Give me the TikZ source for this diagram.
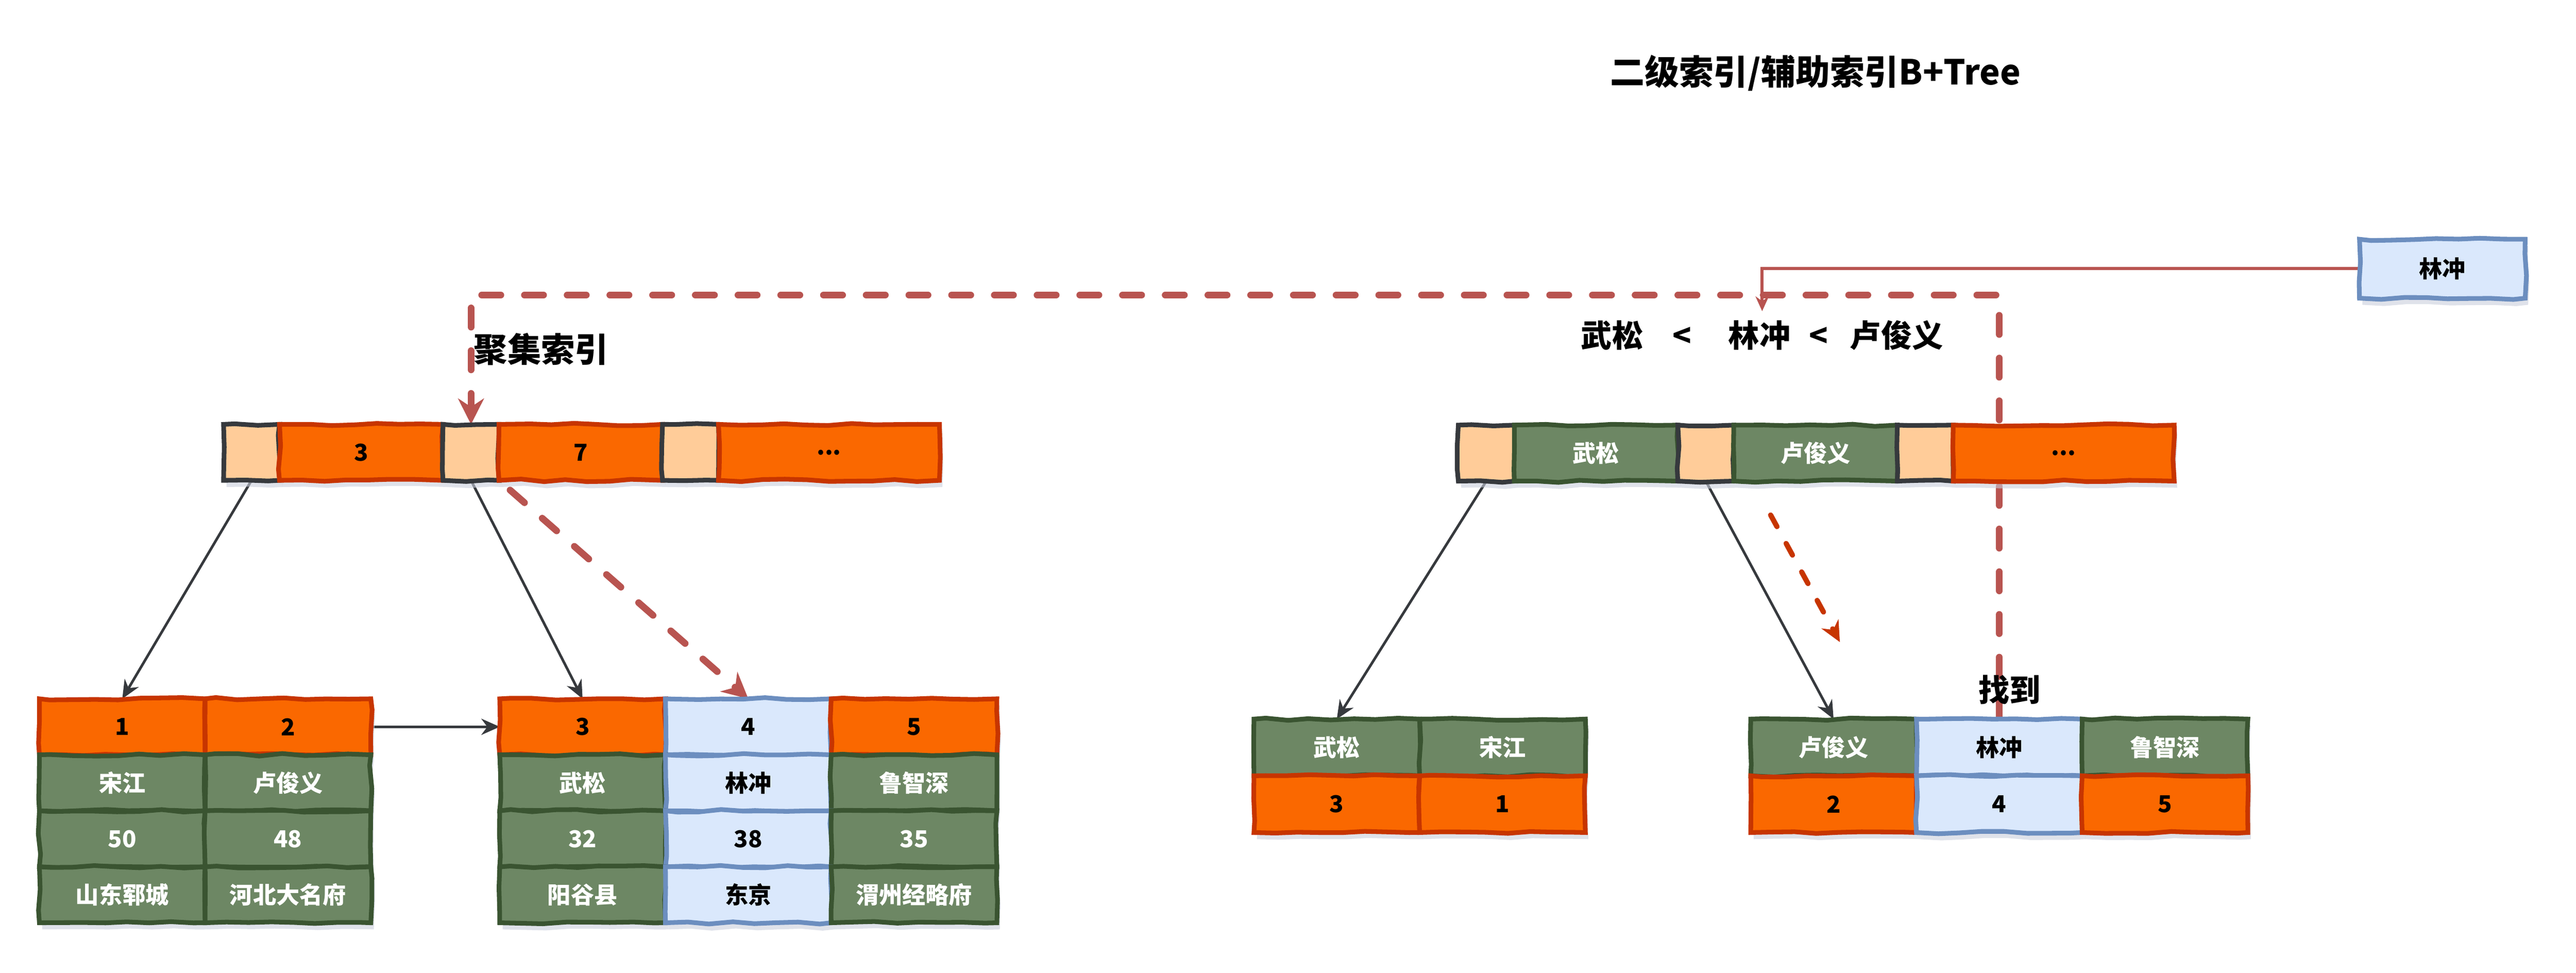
\documentclass[tikz,border=0pt]{standalone}
\usepackage{fontspec}
\setmainfont{Noto Sans CJK SC}
\usetikzlibrary{positioning,arrows.meta,shadows,decorations.pathmorphing}

\definecolor{orgfill}{HTML}{FA6800}
\definecolor{orgline}{HTML}{C73500}
\definecolor{grnfill}{HTML}{6D8764}
\definecolor{grnline}{HTML}{3A5431}
\definecolor{blufill}{HTML}{DAE8FC}
\definecolor{bluline}{HTML}{6C8EBF}
\definecolor{ptrfill}{HTML}{FFCC99}
\definecolor{darkline}{HTML}{36393D}
\definecolor{redline}{HTML}{B85450}
\definecolor{shadowc}{HTML}{C9CEDC}

\pgfdeclarelayer{bg}
\pgfsetlayers{bg,main}

\tikzset{
  cell/.style={rectangle, line width=1.8pt, outer sep=0pt, inner sep=0pt,
    font=\bfseries\fontsize{9}{10}\selectfont, minimum height=0.76cm,
    drop shadow={shadow xshift=0.4mm, shadow yshift=-0.9mm, fill=shadowc, opacity=0.6},
    decorate, decoration={random steps, segment length=3mm, amplitude=0.5pt}},
  ptr/.style={cell, fill=ptrfill, draw=darkline, minimum width=0.76cm},
  okey/.style={cell, fill=orgfill, draw=orgline, text=black},
  gkey/.style={cell, fill=grnfill, draw=grnline, text=white},
  bkey/.style={cell, fill=blufill, draw=bluline, text=black},
  keyw/.style={minimum width=2.22cm},
  leafw/.style={minimum width=2.25cm},
  lbl/.style={font=\bfseries\fontsize{12}{14}\selectfont},
  tie/.style={draw=darkline, line width=1pt, -{Stealth[length=2.5mm,width=2.2mm]}},
  backdash/.style={draw=redline, line width=2.6pt, line cap=round,
    dash pattern=on 2.6mm off 3.2mm, -{Stealth[length=3.5mm,width=3.5mm]}},
  hop/.style={draw=orgline, line width=2pt, line cap=round,
    dash pattern=on 1.8mm off 2.6mm, -{Stealth[length=2.8mm,width=2.6mm]}},
  probe/.style={draw=redline, line width=1.2pt, -{Stealth[length=2mm,width=1.8mm]}}
}

\begin{document}
\begin{tikzpicture}
\pgfmathsetseed{7}
\useasboundingbox (0,0) rectangle (34.975,-13.2);

\node[font=\bfseries\fontsize{13.3}{15}\selectfont] (title) at (24.65,-0.99) {二级索引/辅助索引B+Tree};

% clustered index root
\node[ptr, anchor=west] (lp1) at (3.035,-6.14) {};
\node[okey, keyw, right=0pt of lp1] (lk3) {3};
\node[ptr, right=0pt of lk3] (lp2) {};
\node[okey, keyw, right=0pt of lp2] (lk7) {7};
\node[ptr, right=0pt of lk7] (lp3) {};
\node[okey, minimum width=3cm, right=0pt of lp3] (lkx) {...};

% clustered index leaves
\node[okey, leafw, anchor=north west] (id1) at (0.535,-9.485) {1};
\node[okey, leafw, right=0pt of id1] (id2) {2};
\node[gkey, leafw, below=0pt of id1] (nm1) {宋江};
\node[gkey, leafw, below=0pt of id2] (nm2) {卢俊义};
\node[gkey, leafw, below=0pt of nm1] (age1) {50};
\node[gkey, leafw, below=0pt of nm2] (age2) {48};
\node[gkey, leafw, below=0pt of age1] (ad1) {山东郓城};
\node[gkey, leafw, below=0pt of age2] (ad2) {河北大名府};

\node[okey, leafw, anchor=north west] (id3) at (6.785,-9.485) {3};
\node[bkey, leafw, right=0pt of id3] (id4) {4};
\node[okey, leafw, right=0pt of id4] (id5) {5};
\node[gkey, leafw, below=0pt of id3] (nm3) {武松};
\node[bkey, leafw, below=0pt of id4] (nm4) {林冲};
\node[gkey, leafw, below=0pt of id5] (nm5) {鲁智深};
\node[gkey, leafw, below=0pt of nm3] (age3) {32};
\node[bkey, leafw, below=0pt of nm4] (age4) {38};
\node[gkey, leafw, below=0pt of nm5] (age5) {35};
\node[gkey, leafw, below=0pt of age3] (ad3) {阳谷县};
\node[bkey, leafw, below=0pt of age4] (ad4) {东京};
\node[gkey, leafw, below=0pt of age5] (ad5) {渭州经略府};

% secondary index root
\node[ptr, anchor=west] (rp1) at (19.8,-6.15) {};
\node[gkey, keyw, right=0pt of rp1] (rk1) {武松};
\node[ptr, right=0pt of rk1] (rp2) {};
\node[gkey, keyw, right=0pt of rp2] (rk2) {卢俊义};
\node[ptr, right=0pt of rk2] (rp3) {};
\node[okey, minimum width=3cm, right=0pt of rp3] (rkx) {...};

% secondary index leaves
\node[gkey, leafw, minimum height=0.77cm, anchor=north west] (sA1) at (17.025,-9.76) {武松};
\node[gkey, leafw, minimum height=0.77cm, right=0pt of sA1] (sA2) {宋江};
\node[okey, leafw, minimum height=0.77cm, below=0pt of sA1] (kA1) {3};
\node[okey, leafw, minimum height=0.77cm, below=0pt of sA2] (kA2) {1};

\node[gkey, leafw, minimum height=0.77cm, anchor=north west] (sB1) at (23.77,-9.76) {卢俊义};
\node[bkey, leafw, minimum height=0.77cm, right=0pt of sB1] (sB2) {林冲};
\node[gkey, leafw, minimum height=0.77cm, right=0pt of sB2] (sB3) {鲁智深};
\node[okey, leafw, minimum height=0.77cm, below=0pt of sB1] (kB1) {2};
\node[bkey, leafw, minimum height=0.77cm, below=0pt of sB2] (kB2) {4};
\node[okey, leafw, minimum height=0.77cm, below=0pt of sB3] (kB3) {5};

% query value and labels
\node[bkey, minimum width=2.25cm, minimum height=0.8cm] (q) at (33.16,-3.6475) {林冲};
\node[lbl, font=\bfseries\fontsize{13}{15}\selectfont, anchor=west] (clus) at (6.31,-4.74) {聚集索引};
\node[lbl] (cmp) at (23.925,-4.55) {武松\hspace{0.4cm}<\hspace{0.5cm}林冲\hspace{0.25cm}<\hspace{0.3cm}卢俊义};
\node[lbl] (found) at (27.285,-9.36) {找到};

\coordinate (turn) at (27.165,-4.005);
\coordinate (hopS) at (24.04,-6.99);
\coordinate (hopE) at (24.98,-8.715);

\begin{pgfonlayer}{bg}
\draw[tie] (lp1.south) -- (id1.north);
\draw[tie] (lp2.south) -- (id3.north);
\draw[tie] (id2.east) -- (id3.west);
\draw[backdash, shorten <=2mm] (lp2.south east) -- (id4.north);
\draw[tie] (rp1.south) -- (sA1.north);
\draw[tie] (rp2.south) -- (sB1.north);
\draw[hop] (hopS) -- (hopE);
\draw[probe] (q.west) -| (cmp.north);
\draw[backdash] (sB2.north) -- (sB2.north |- turn) -| (lp2.north);
\end{pgfonlayer}
\end{tikzpicture}
\end{document}
